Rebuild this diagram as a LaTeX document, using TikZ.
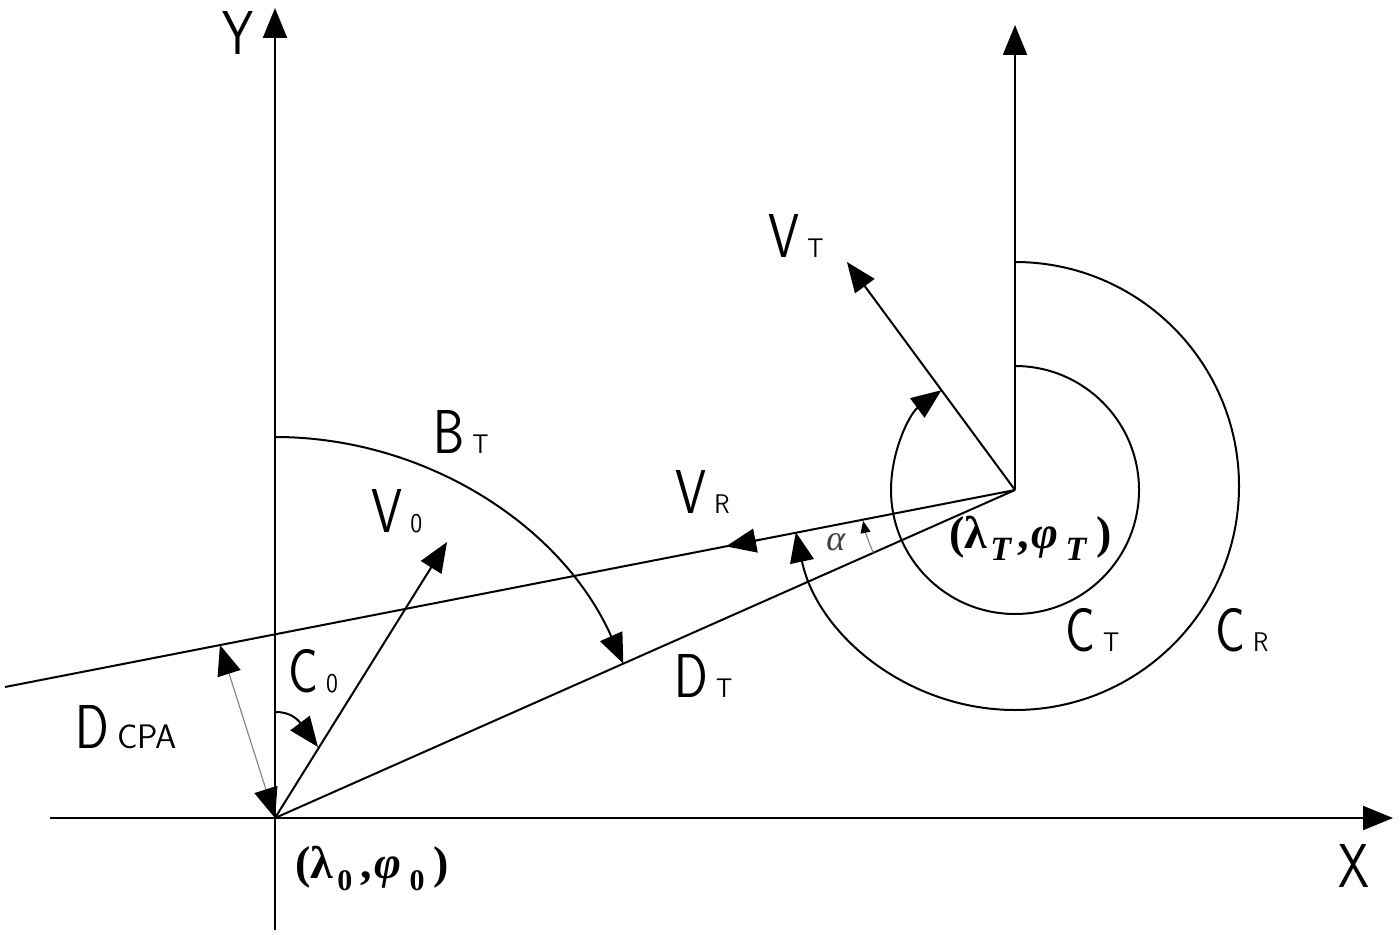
\documentclass[tikz,border=0pt]{standalone}
\usepackage{fontspec}
\usepackage{graphicx}
\usetikzlibrary{arrows.meta}
\newfontfamily\tmsfont{Liberation Serif}
\newcommand\cadfont{\sffamily}
\newcommand\cadmain[1]{\scalebox{0.8}[1]{\cadfont\fontsize{31}{31}\selectfont #1}}
\newcommand\cadsub[1]{\scalebox{0.9}[1]{\cadfont\fontsize{13.5}{13.5}\selectfont #1}}
\newcommand\cadlabel[2]{\cadmain{#1}\hspace{4pt}\cadsub{#2}}
\newcommand\tsub[2]{\raisebox{-6pt}{\fontsize{#1}{#1}\selectfont #2}}
\begin{document}
\begin{tikzpicture}[x=0.5pt,y=-0.5pt,
  ln/.style={line width=1pt,black},
  grayln/.style={line width=0.55pt,black!50},
  bigtip/.style={-{Triangle[length=15pt,width=12pt,color=black]}},
  bothtips/.style={{Triangle[length=15pt,width=12pt,color=black]}-{Triangle[length=15pt,width=12pt,color=black]}},
  smalltip/.style={-{Triangle[length=6pt,width=5pt,color=black]}},
  lbl/.style={inner sep=0pt,anchor=base west}]
\useasboundingbox (0,0) rectangle (1400,935);
% key points
\coordinate (O) at (275,818);
\coordinate (T) at (1015,490);
\coordinate (Ybot) at (275,930);
\coordinate (Ytop) at (275,8);
\coordinate (Xl) at (50,818);
\coordinate (Xr) at (1393,818);
\coordinate (Ttop) at (1015,25);
\coordinate (L) at (5,687);
\coordinate (VRa) at (760,539.7);
\coordinate (VRb) at (726,546.4);
\coordinate (V0) at (447,542);
\coordinate (VT) at (847,262);
\coordinate (P) at (220,645);
% axes
\draw[ln,bigtip] (Ybot) -- (Ytop);
\draw[ln,bigtip] (Xl) -- (Xr);
\draw[ln,bigtip] (T) -- (Ttop);
% lines
\draw[ln] (T) -- (L);
\draw[ln,bigtip] (VRa) -- (VRb);
\draw[ln] (O) -- (T);
\draw[ln,bigtip] (O) -- (V0);
\draw[ln,bigtip] (T) -- (VT);
\draw[grayln,bothtips] (O) -- (P);
% arcs
\draw[ln,bigtip] (O) ++(-90:381) arc[start angle=-90,end angle=-23.9,radius=381];
\draw[ln,bigtip] (276,712) .. controls (296,712) and (303,727) .. (318,747);
\draw[ln,bigtip] (T) ++(-90:124) arc[start angle=-90,end angle=233.6,radius=124];
\draw[ln,bigtip] (1015,486) ++(-90:224) arc[start angle=-90,end angle=168.1,radius=224];
\draw[grayln,smalltip] (T) ++(156.1:155) arc[start angle=156.1,end angle=168.5,radius=155];
% labels
\node[lbl] (lY) at (222,55) {\cadmain{Y}};
\node[lbl] (lX) at (1338,887) {\cadmain{X}};
\node[lbl] (lBT) at (433,453) {\cadlabel{B}{T}};
\node[lbl] (lV0) at (371,532) {\cadlabel{V}{0}};
\node[lbl] (lVT) at (768,258) {\cadlabel{V}{T}};
\node[lbl] (lVR) at (675,513) {\cadlabel{V}{R}};
\node[lbl] (lDT) at (674,697) {\cadlabel{D}{T}};
\node[lbl] (lC0) at (288,692) {\cadlabel{C}{0}};
\node[lbl] (lCT) at (1065,651) {\cadlabel{C}{T}\hspace{2pt}};
\node[lbl] (lCR) at (1215,651) {\cadlabel{C}{R}};
\node[lbl] (lDCPA) at (75,748) {\cadmain{D}\hspace{4pt}{\cadfont\fontsize{17}{17}\selectfont CPA}};
\node[lbl,text=black!75] (lal) at (826,550) {\tmsfont\itshape\fontsize{18}{18}\selectfont α};
\node[lbl] (lT) at (949,548) {\tmsfont\bfseries\fontsize{23}{23}\selectfont (λ\hspace{1.5pt}\tsub{17}{\itshape T}\hspace{3pt},\hspace{1.5pt}\textit{φ}\hspace{3.5pt}\tsub{17}{\itshape T}\hspace{5pt})};
\node[lbl] (l0) at (295,878) {\tmsfont\bfseries\fontsize{23}{23}\selectfont (λ\hspace{2pt}\tsub{15}{0}\hspace{4pt},\hspace{1.5pt}\textit{φ}\hspace{4pt}\tsub{15}{0}\hspace{4.5pt})};
\end{tikzpicture}
\end{document}
